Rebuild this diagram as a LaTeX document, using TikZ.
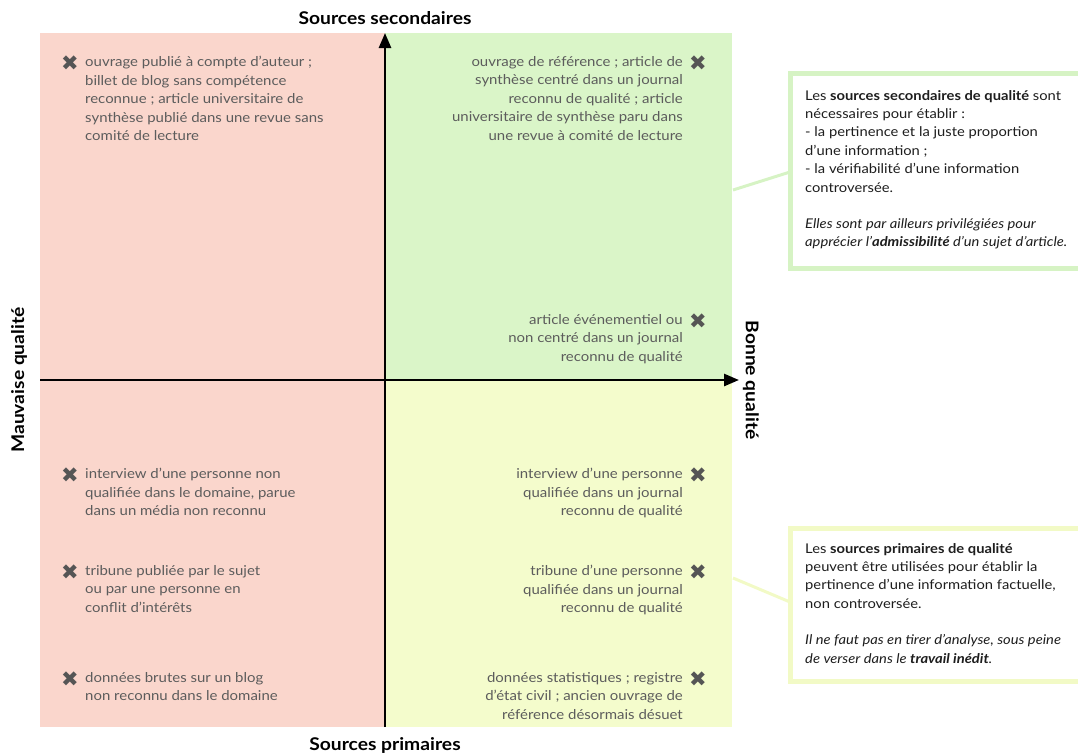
\documentclass[tikz,border=0pt]{standalone}
\usepackage{fontspec}
\setmainfont{Lato}[FakeStretch=1.1]
\newfontfamily\symfont{DejaVu Sans}
\usetikzlibrary{arrows.meta}
\definecolor{qred}{RGB}{250,214,204}
\definecolor{qgreen}{RGB}{218,245,200}
\definecolor{qyellow}{RGB}{244,252,204}
\definecolor{qgreenline}{RGB}{214,243,196}
\definecolor{qyellowline}{RGB}{242,250,198}
\definecolor{itemgray}{RGB}{92,92,92}
\definecolor{markgray}{RGB}{85,85,85}
\definecolor{calltext}{RGB}{30,30,30}
\tikzset{
  axisline/.style={line width=2.6pt, -{Triangle[length=15pt,width=12pt]}},
  crossmark/.style={inner sep=0pt, text=markgray, font=\symfont\fontsize{21}{21}\selectfont},
  litem/.style={anchor=north west, inner sep=0pt, align=left, text=itemgray, font=\fontsize{13.6}{18.5}\selectfont},
  ritem/.style={anchor=north east, inner sep=0pt, align=right, text=itemgray, font=\fontsize{13.6}{18.5}\selectfont},
  axlabel/.style={inner sep=0pt, font=\bfseries\fontsize{17.5}{19}\selectfont},
  callbox/.style={line width=5pt, fill=white},
  calltxt/.style={anchor=north west, inner sep=0pt, align=left, text=calltext, font=\fontsize{13.4}{18.4}\selectfont},
  callline/.style={line width=3pt}
}
\begin{document}
\begin{tikzpicture}[x=1pt,y=-1pt]
\useasboundingbox (0,0) rectangle (1078,755);
% quadrants
\fill[qred] (40,33) rectangle (385,727);
\fill[qgreen] (385,33) rectangle (732,380);
\fill[qyellow] (385,380) rectangle (732,727);
% axes
\coordinate (vb) at (385,727);
\coordinate (vt) at (385,33);
\coordinate (hl) at (40,380);
\coordinate (hr) at (739,380);
\draw[axisline] (vb) -- (vt);
\draw[axisline] (hl) -- (hr);
% axis labels
\node[axlabel] (top) at (385,18) {Sources secondaires};
\node[axlabel] (bottom) at (385,745) {Sources primaires};
\node[axlabel, rotate=90] (left) at (19,380) {Mauvaise qualité};
\node[axlabel, rotate=-90] (right) at (751,380) {Bonne qualité};
% top-left
\node[crossmark] (x1) at (70,63) {✖};
\node[litem] (t1) at (85,56) {ouvrage publié à compte d’auteur ;\\billet de blog sans compétence\\reconnue ; article universitaire de\\synthèse publié dans une revue sans\\comité de lecture};
% top-right
\node[crossmark] (x2) at (698,63) {✖};
\node[ritem] (t2) at (683,56) {ouvrage de référence ; article de\\synthèse centré dans un journal\\reconnu de qualité ; article\\universitaire de synthèse paru dans\\une revue à comité de lecture};
\node[crossmark] (x3) at (698,321) {✖};
\node[ritem] (t3) at (683,314) {article événementiel ou\\non centré dans un journal\\reconnu de qualité};
% bottom-left
\node[crossmark] (x4) at (70,475) {✖};
\node[litem] (t4) at (85,468) {interview d’une personne non\\qualifiée dans le domaine, parue\\dans un média non reconnu};
\node[crossmark] (x5) at (70,572) {✖};
\node[litem] (t5) at (85,565) {tribune publiée par le sujet\\ou par une personne en\\conflit d’intérêts};
\node[crossmark] (x6) at (70,679) {✖};
\node[litem] (t6) at (85,672) {données brutes sur un blog\\non reconnu dans le domaine};
% bottom-right
\node[crossmark] (x7) at (698,475) {✖};
\node[ritem] (t7) at (683,468) {interview d’une personne\\qualifiée dans un journal\\reconnu de qualité};
\node[crossmark] (x8) at (698,572) {✖};
\node[ritem] (t8) at (683,565) {tribune d’une personne\\qualifiée dans un journal\\reconnu de qualité};
\node[crossmark] (x9) at (698,679) {✖};
\node[ritem] (t9) at (683,672) {données statistiques ; registre\\d’état civil ; ancien ouvrage de\\référence désormais désuet};
% callout 1
\coordinate (c1a) at (733,190);
\coordinate (c1b) at (790,172);
\draw[callline, qgreenline] (c1a) -- (c1b);
\draw[callbox, draw=qgreenline] (790,73) rectangle (1095,268);
\node[calltxt] (n1) at (805,90) {Les \textbf{sources secondaires de qualité} sont\\nécessaires pour établir :\\- la pertinence et la juste proportion\\d’une information ;\\- la vérifiabilité d’une information\\controversée.\\[18pt]\textit{Elles sont par ailleurs privilégiées pour}\\\textit{apprécier l’\textbf{admissibilité} d’un sujet d’article.}};
% callout 2
\coordinate (c2a) at (733,578);
\coordinate (c2b) at (790,602);
\draw[callline, qyellowline] (c2a) -- (c2b);
\draw[callbox, draw=qyellowline] (790,528) rectangle (1095,681);
\node[calltxt] (n2) at (805,543) {Les \textbf{sources primaires de qualité}\\peuvent être utilisées pour établir la\\pertinence d’une information factuelle,\\non controversée.\\[18pt]\textit{Il ne faut pas en tirer d’analyse, sous peine}\\\textit{de verser dans le \textbf{travail inédit}.}};
\end{tikzpicture}
\end{document}
